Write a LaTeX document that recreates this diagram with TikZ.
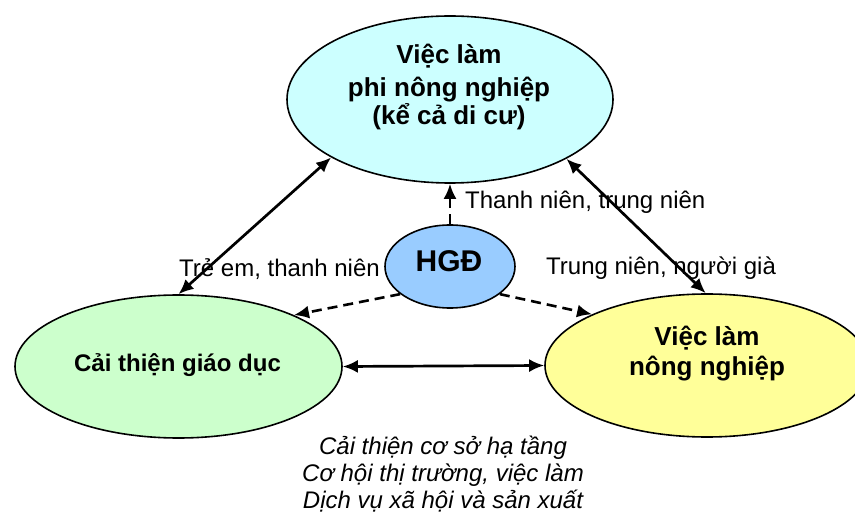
\documentclass[tikz,border=0pt]{standalone}
\usepackage{fontspec}
\setmainfont{Liberation Sans}
\usetikzlibrary{shapes.geometric,arrows.meta}
\definecolor{cyanfill}{HTML}{CCFFFF}
\definecolor{greenfill}{HTML}{CCFFCC}
\definecolor{yellowfill}{HTML}{FFFF99}
\definecolor{bluefill}{HTML}{99CCFF}
\begin{document}
\begin{tikzpicture}[x=1pt,y=-1pt,
  ell/.style={ellipse, draw, line width=1.6pt, inner sep=0pt},
  biarrow/.style={{Latex[length=15pt,width=13pt]}-{Latex[length=15pt,width=13pt]}, line width=2.7pt},
  dasharrow/.style={-{Latex[length=15pt,width=13pt]}, line width=2.6pt, dash pattern=on 10pt off 6pt},
  lbl/.style={font=\fontsize{24}{27}\selectfont, anchor=base west, inner sep=0pt},
  boldtxt/.style={font=\fontsize{26}{30}\selectfont\bfseries, anchor=base, inner sep=0pt},
  itxt/.style={font=\fontsize{24}{27}\selectfont\itshape, anchor=base, inner sep=0pt}]
\useasboundingbox (0,0) rectangle (855,513);
\clip (0,0) rectangle (855,513);
\node[ell, fill=cyanfill, minimum width=326pt, minimum height=167pt] (top) at (450,99.5) {};
\node[ell, fill=greenfill, minimum width=327pt, minimum height=143pt] (left) at (178.5,366.5) {};
\node[ell, fill=yellowfill, minimum width=324pt, minimum height=143pt] (right) at (707,365.5) {};
\node[ell, fill=bluefill, minimum width=130pt, minimum height=83pt] (hgd) at (450,266.5) {};

\node[boldtxt] (t1) at (449,64) {Việc làm};
\node[boldtxt] (t2) at (449,97) {phi nông nghiệp};
\node[boldtxt] (t3) at (449,125) {(kể cả di cư)};
\node[boldtxt, font=\fontsize{24}{28}\selectfont\bfseries] (l1) at (177.5,372) {Cải thiện giáo dục};
\node[boldtxt] (r1) at (707,345) {Việc làm};
\node[boldtxt] (r2) at (707,375) {nông nghiệp};
\node[boldtxt, font=\fontsize{30}{34}\selectfont\bfseries] (h1) at (449,272) {HGĐ};

\draw[biarrow] (top.206.6) -- (left.90);
\draw[biarrow] (top.333.4) -- (right.91);
\draw[biarrow] (left.east) -- (right.west);
\draw[dasharrow] (hgd.north) -- (top.south);
\draw[dasharrow] (hgd.209) -- (left.24);
\draw[dasharrow] (hgd.331.5) -- (right.156.3);

\node[lbl] (lt) at (465,209) {Thanh niên, trung niên};
\node[lbl] (ll) at (179,277) {Trẻ em, thanh niên};
\node[lbl] (lr) at (546,275) {Trung niên, người già};

\node[itxt] (b1) at (443,454) {Cải thiện cơ sở hạ tầng};
\node[itxt] (b2) at (443,481) {Cơ hội thị trường, việc làm};
\node[itxt] (b3) at (443,508) {Dịch vụ xã hội và sản xuất};
\end{tikzpicture}
\end{document}
